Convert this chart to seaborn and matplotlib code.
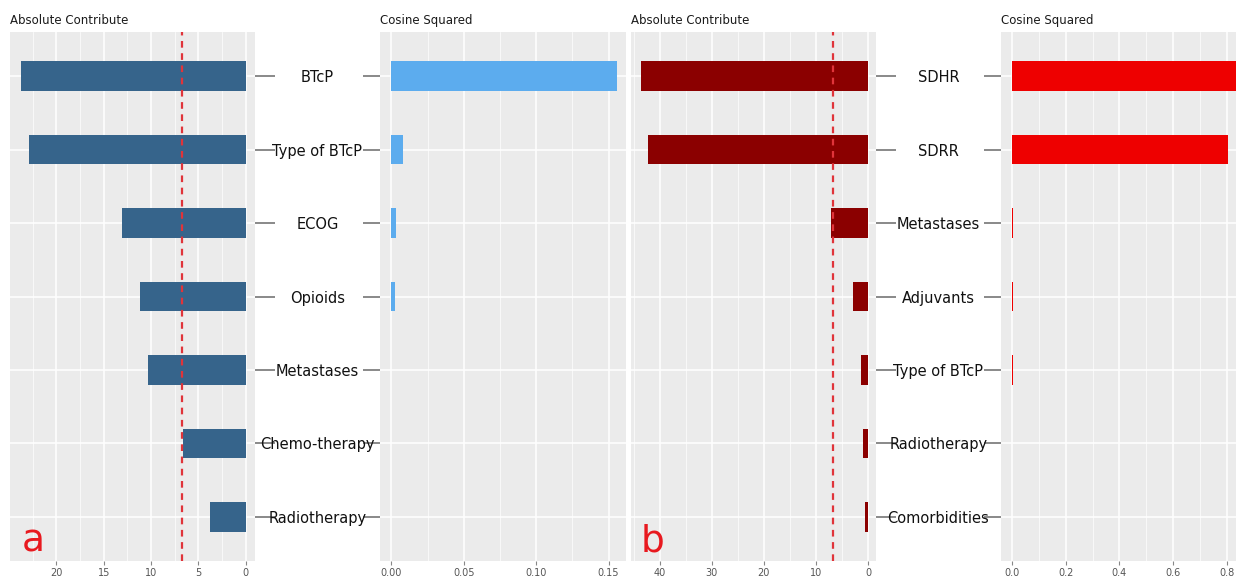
import matplotlib
matplotlib.use("Agg")
import matplotlib.pyplot as plt
import seaborn as sns
import pandas as pd
from matplotlib.ticker import MultipleLocator, FormatStrFormatter

# panel a
a_vars = ["BTcP", "Type of BTcP", "ECOG", "Opioids", "Metastases", "Chemo-therapy", "Radiotherapy"]
a_contrib = [23.7, 22.9, 13.1, 11.2, 10.3, 6.6, 3.8]
a_cos2 = [0.156, 0.0078, 0.0035, 0.0028, 0.0, 0.0, 0.0]
a_cut = 6.67

# panel b
b_vars = ["SDHR", "SDRR", "Metastases", "Adjuvants", "Type of BTcP", "Radiotherapy", "Comorbidities"]
b_contrib = [43.6, 42.2, 7.1, 2.9, 1.45, 0.95, 0.57]
b_cos2 = [0.85, 0.806, 0.004, 0.003, 0.003, 0.0, 0.0]
b_cut = 6.67

W, H = 1236, 577
fig = plt.figure(figsize=(W / 100, H / 100), dpi=100)
TOP, BOT = 32, 561
PT = 72 / 100  # points per pixel


def px_axes(x0, x1):
    return fig.add_axes([x0 / W, 1 - BOT / H, (x1 - x0) / W, (BOT - TOP) / H])


def style(ax, vals, names, color, xlim, major, fmt, title, side):
    df = pd.DataFrame({"var": names, "val": vals})
    sns.barplot(data=df, x="val", y="var", orient="h", color=color, saturation=1,
                width=0.4, ax=ax, order=names)
    ax.set_facecolor("#EBEBEB")
    for s in ax.spines.values():
        s.set_visible(False)
    ax.set_xlim(*xlim)
    ax.set_ylim(len(names) - 0.4, -0.6)
    ax.xaxis.set_major_locator(MultipleLocator(major))
    ax.xaxis.set_minor_locator(MultipleLocator(major / 2))
    ax.xaxis.set_major_formatter(FormatStrFormatter(fmt))
    ax.set_axisbelow(True)
    ax.grid(True, which="major", color="white", lw=1.1)
    ax.grid(True, which="minor", axis="x", color="white", lw=0.5)
    ax.set_xlabel("")
    ax.set_ylabel("")
    ax.tick_params(axis="x", which="major", length=3, width=0.8, color="#888888",
                   labelsize=7, labelcolor="#555555", pad=2)
    ax.tick_params(axis="x", which="minor", length=0)
    ax.set_title(title, loc="left", fontsize=8.5, color="#1a1a1a", pad=6)
    if side == "left":
        ax.yaxis.tick_left()
        ax.tick_params(axis="y", length=17 * PT, width=1.3, color="#808080", labelleft=False)
    for b in ax.patches:
        b.set_edgecolor("none")
    return ax


def labels_right(ax, x_right, center):
    tick_len = 20
    ax.yaxis.tick_right()
    ax.tick_params(axis="y", length=tick_len * PT, width=1.3, color="#808080",
                   labelright=True, labelleft=False, labelsize=10.5,
                   labelcolor="#111111", pad=(center - x_right - tick_len) * PT)
    for t in ax.get_yticklabels():
        t.set_horizontalalignment("center")
    ax.set_zorder(3)


ax1 = px_axes(10, 255)
style(ax1, a_contrib, a_vars, "#36648B", (24.9, -1.0), 5, "%g", "Absolute Contribute", "right")
ax1.axvline(a_cut, color="#e0343a", ls=(0, (3, 2.5)), lw=1.6)
labels_right(ax1, 255, 317.5)

ax2 = px_axes(380, 626)
style(ax2, a_cos2, a_vars, "#5CACEE", (-0.0078, 0.162), 0.05, "%.2f", "Cosine Squared", "left")

ax3 = px_axes(631, 876)
style(ax3, b_contrib, b_vars, "#8B0000", (45.5, -1.5), 10, "%g", "Absolute Contribute", "right")
ax3.axvline(b_cut, color="#e0343a", ls=(0, (3, 2.5)), lw=1.6)
labels_right(ax3, 876, 938.5)

ax4 = px_axes(1001, 1240)
style(ax4, b_cos2, b_vars, "#EE0000", (-0.0425, 0.85), 0.2, "%.1f", "Cosine Squared", "left")

fig.text(33 / W, 1 - 551 / H, "a", ha="center", va="baseline", fontsize=27, color="#e8191f")
fig.text(653 / W, 1 - 551 / H, "b", ha="center", va="baseline", fontsize=27, color="#e8191f")

fig.savefig("out.png", dpi=100)
